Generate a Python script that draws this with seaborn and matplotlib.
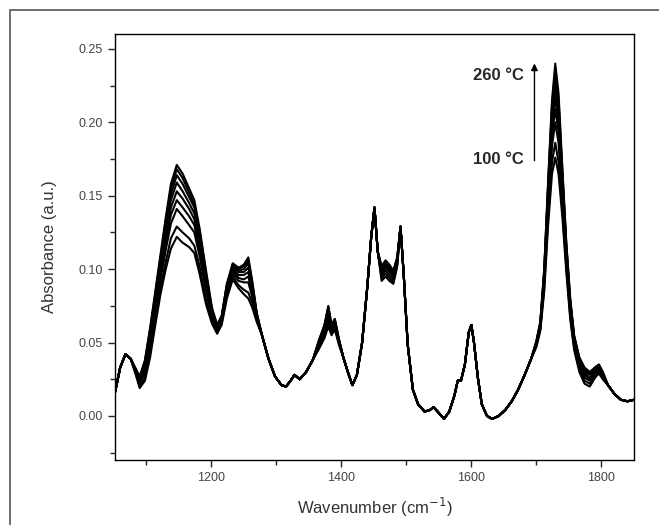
import matplotlib
matplotlib.use("Agg")
import matplotlib.pyplot as plt
import pandas as pd
import seaborn as sns
from matplotlib.patches import Rectangle
from matplotlib.ticker import MultipleLocator

temperatures = [100, 120, 140, 160, 180, 200, 220, 240, 260]

wavenumber = [
    1052, 1060, 1068, 1076,
    1084, 1090, 1098, 1106, 1114, 1122, 1130, 1138, 1147, 1156, 1166, 1174,
    1182, 1192, 1201, 1209, 1216, 1224, 1233, 1242, 1250, 1257, 1263, 1270,
    1278, 1288, 1298, 1308, 1315, 1322, 1328, 1336, 1346, 1356,
    1366, 1374, 1380, 1385, 1390, 1396,
    1403, 1410, 1417, 1424, 1432, 1440, 1446, 1451, 1456,
    1462, 1468, 1474, 1480, 1486,
    1491, 1496, 1502, 1510, 1518, 1528, 1536, 1542, 1550, 1558, 1566, 1574,
    1579, 1584, 1590, 1596, 1600, 1604, 1610, 1616, 1624, 1632, 1642, 1652,
    1662, 1672, 1682, 1692,
    1700, 1706, 1712, 1718, 1724, 1729, 1734, 1740, 1746, 1752, 1758, 1766,
    1774, 1782, 1790, 1796, 1802,
    1810, 1820, 1830, 1840, 1850,
]

# parts of the spectrum where all temperatures overlap
common_1050 = [0.016, 0.033, 0.042, 0.039]
common_1280 = [0.055, 0.039, 0.027, 0.021, 0.020, 0.024, 0.028, 0.025, 0.030, 0.038]
common_1400 = [0.040, 0.030, 0.021, 0.028, 0.050, 0.088, 0.122, 0.142, 0.112]
common_1490 = [0.129, 0.096, 0.049, 0.018, 0.008, 0.003, 0.004, 0.006, 0.002, -0.002,
               0.003, 0.014, 0.024, 0.024, 0.035, 0.057, 0.062, 0.050, 0.026, 0.008,
               0.000, -0.002, 0.000, 0.004, 0.010, 0.018, 0.028, 0.039]
common_1810 = [0.021, 0.015, 0.011, 0.010, 0.011]

# bands that change with temperature, one row per temperature (100 -> 260 °C)
band_1150 = [
    [0.028, 0.019, 0.024, 0.040, 0.062, 0.083, 0.100, 0.114, 0.122, 0.118, 0.115, 0.111,
     0.097, 0.076, 0.063, 0.056, 0.062, 0.080, 0.093, 0.087, 0.083, 0.080, 0.074, 0.064],
    [0.029, 0.020, 0.026, 0.043, 0.065, 0.087, 0.105, 0.121, 0.129, 0.125, 0.121, 0.116,
     0.102, 0.079, 0.065, 0.057, 0.063, 0.082, 0.095, 0.089, 0.086, 0.084, 0.077, 0.065],
    [0.030, 0.022, 0.029, 0.048, 0.071, 0.093, 0.113, 0.131, 0.141, 0.136, 0.130, 0.125,
     0.109, 0.085, 0.067, 0.058, 0.064, 0.084, 0.097, 0.092, 0.091, 0.091, 0.081, 0.066],
    [0.030, 0.023, 0.031, 0.050, 0.074, 0.097, 0.118, 0.137, 0.147, 0.142, 0.136, 0.130,
     0.113, 0.088, 0.069, 0.059, 0.065, 0.085, 0.099, 0.094, 0.093, 0.095, 0.083, 0.067],
    [0.031, 0.024, 0.033, 0.053, 0.077, 0.100, 0.122, 0.142, 0.153, 0.148, 0.141, 0.134,
     0.117, 0.091, 0.070, 0.060, 0.066, 0.086, 0.100, 0.096, 0.096, 0.098, 0.086, 0.068],
    [0.031, 0.025, 0.035, 0.055, 0.079, 0.103, 0.126, 0.147, 0.159, 0.153, 0.145, 0.138,
     0.120, 0.093, 0.071, 0.060, 0.066, 0.088, 0.101, 0.098, 0.098, 0.101, 0.088, 0.068],
    [0.031, 0.026, 0.036, 0.057, 0.082, 0.106, 0.130, 0.151, 0.164, 0.158, 0.149, 0.142,
     0.123, 0.096, 0.072, 0.061, 0.067, 0.089, 0.102, 0.099, 0.100, 0.104, 0.089, 0.069],
    [0.032, 0.026, 0.037, 0.059, 0.083, 0.108, 0.133, 0.155, 0.168, 0.162, 0.152, 0.144,
     0.126, 0.097, 0.073, 0.062, 0.068, 0.089, 0.103, 0.100, 0.102, 0.106, 0.091, 0.070],
    [0.032, 0.027, 0.038, 0.060, 0.085, 0.110, 0.135, 0.158, 0.171, 0.165, 0.155, 0.147,
     0.128, 0.099, 0.074, 0.062, 0.068, 0.090, 0.104, 0.101, 0.103, 0.108, 0.092, 0.070],
]

band_1380 = [
    [0.046, 0.053, 0.061, 0.055, 0.059, 0.049],
    [0.047, 0.054, 0.063, 0.056, 0.060, 0.050],
    [0.048, 0.056, 0.066, 0.058, 0.062, 0.051],
    [0.049, 0.058, 0.068, 0.059, 0.063, 0.051],
    [0.050, 0.059, 0.070, 0.059, 0.063, 0.052],
    [0.050, 0.060, 0.072, 0.060, 0.064, 0.052],
    [0.051, 0.061, 0.073, 0.061, 0.065, 0.052],
    [0.052, 0.061, 0.074, 0.062, 0.066, 0.053],
    [0.052, 0.062, 0.075, 0.062, 0.066, 0.053],
]

band_1470 = [
    [0.092, 0.095, 0.092, 0.090, 0.102],
    [0.094, 0.097, 0.094, 0.091, 0.103],
    [0.096, 0.099, 0.096, 0.093, 0.104],
    [0.097, 0.101, 0.098, 0.095, 0.105],
    [0.098, 0.102, 0.099, 0.096, 0.106],
    [0.100, 0.103, 0.100, 0.097, 0.106],
    [0.101, 0.104, 0.101, 0.098, 0.107],
    [0.101, 0.105, 0.102, 0.098, 0.108],
    [0.102, 0.106, 0.103, 0.099, 0.108],
]

band_1730 = [
    [0.047, 0.058, 0.085, 0.130, 0.165, 0.176, 0.165, 0.135, 0.098, 0.066, 0.045, 0.030,
     0.022, 0.020, 0.026, 0.029, 0.025],
    [0.048, 0.059, 0.087, 0.135, 0.173, 0.186, 0.173, 0.140, 0.101, 0.068, 0.047, 0.032,
     0.024, 0.022, 0.027, 0.030, 0.026],
    [0.049, 0.060, 0.091, 0.141, 0.184, 0.200, 0.186, 0.148, 0.106, 0.071, 0.049, 0.034,
     0.026, 0.024, 0.029, 0.031, 0.027],
    [0.049, 0.061, 0.093, 0.146, 0.191, 0.209, 0.194, 0.152, 0.108, 0.073, 0.050, 0.035,
     0.028, 0.025, 0.030, 0.032, 0.028],
    [0.050, 0.062, 0.095, 0.149, 0.197, 0.217, 0.200, 0.156, 0.111, 0.075, 0.051, 0.036,
     0.029, 0.026, 0.030, 0.033, 0.028],
    [0.050, 0.062, 0.096, 0.153, 0.203, 0.224, 0.206, 0.160, 0.113, 0.077, 0.053, 0.038,
     0.030, 0.028, 0.031, 0.033, 0.029],
    [0.050, 0.063, 0.098, 0.156, 0.208, 0.230, 0.212, 0.163, 0.115, 0.078, 0.054, 0.039,
     0.031, 0.029, 0.032, 0.034, 0.029],
    [0.051, 0.064, 0.099, 0.158, 0.212, 0.236, 0.216, 0.166, 0.117, 0.079, 0.054, 0.039,
     0.032, 0.029, 0.033, 0.035, 0.030],
    [0.051, 0.064, 0.100, 0.160, 0.215, 0.240, 0.220, 0.168, 0.118, 0.080, 0.055, 0.040,
     0.033, 0.030, 0.033, 0.035, 0.030],
]

rows = []
for i, t in enumerate(temperatures):
    spec = (common_1050 + band_1150[i] + common_1280 + band_1380[i] + common_1400
            + band_1470[i] + common_1490 + band_1730[i] + common_1810)
    for w, a in zip(wavenumber, spec):
        rows.append({"wavenumber": w, "absorbance": a, "temperature": t})
df = pd.DataFrame(rows)

sns.set_style("ticks")
plt.rcParams["font.family"] = ["Liberation Sans", "DejaVu Sans"]

fig = plt.figure(figsize=(6.59, 5.25), dpi=100)
ax = fig.add_axes([0.1745, 0.1238, 0.7875, 0.811])

sns.lineplot(data=df, x="wavenumber", y="absorbance", hue="temperature",
             palette=["black"] * len(temperatures), legend=False,
             estimator=None, lw=1.5, ax=ax)

ax.set_xlim(1052, 1850)
ax.set_ylim(-0.030, 0.260)
ax.xaxis.set_major_locator(MultipleLocator(200))
ax.xaxis.set_minor_locator(MultipleLocator(100))
ax.yaxis.set_major_locator(MultipleLocator(0.05))
ax.yaxis.set_minor_locator(MultipleLocator(0.025))
ax.yaxis.set_major_formatter(plt.FuncFormatter(lambda v, p: f"{v:.2f}"))
ax.tick_params(which="major", direction="out", length=5, width=1, labelsize=9,
               labelcolor="#444444", top=False, right=False)
ax.tick_params(which="minor", direction="out", length=3.5, width=1, top=False, right=False)
for s in ax.spines.values():
    s.set_linewidth(1.0)
    s.set_color("black")

ax.set_xlabel("Wavenumber (cm$^{-1}$)", fontsize=12, color="#333333", labelpad=9)
ax.set_ylabel("Absorbance (a.u.)", fontsize=12, color="#333333", labelpad=16)

ax.text(1680, 0.232, "260 °C", ha="right", va="center", fontsize=12, fontweight="bold")
ax.text(1680, 0.175, "100 °C", ha="right", va="center", fontsize=12, fontweight="bold")
ax.annotate("", xy=(1697, 0.242), xytext=(1697, 0.172),
            arrowprops=dict(arrowstyle="-|>", color="black", lw=1, mutation_scale=10))

fig.patches.append(Rectangle((10 / 659, -0.1), 1.1, 1 - 10 / 525 + 0.1,
                             transform=fig.transFigure, fill=False,
                             edgecolor="#555555", lw=1.2))

fig.savefig("out.png", dpi=100)
